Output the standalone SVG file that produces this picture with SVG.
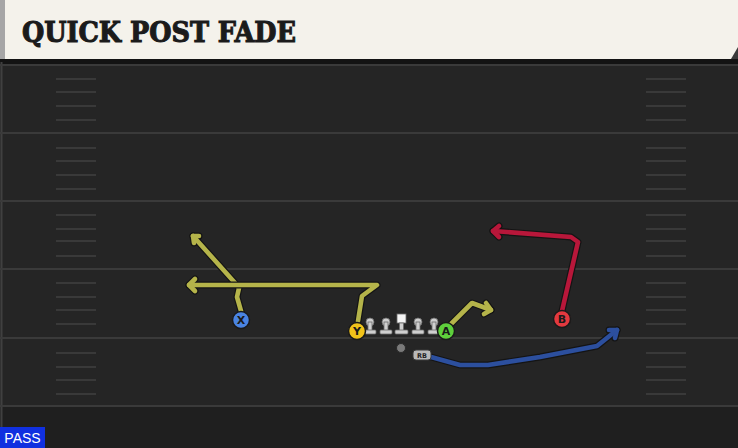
<svg xmlns="http://www.w3.org/2000/svg" width="738" height="448" viewBox="0 0 738 448">
<style>
.yl{stroke:#3a3a3a;stroke-width:2}
.hm{stroke:#393939;stroke-width:2}
.out{fill:none;stroke:#141414;stroke-width:7;stroke-linecap:round;stroke-linejoin:round}
.rt{fill:none;stroke-width:4.6;stroke-linecap:round;stroke-linejoin:round}
.ol{stroke:#b5b44a}
.rd{stroke:#b8173a}
.bl{stroke:#2c4f9e}
.pc{stroke:#1a1a1a;stroke-width:1.5}
.pl{font-family:"DejaVu Sans",sans-serif;font-weight:bold;font-size:11px;fill:#1a1a1a;text-anchor:middle}
.ln{fill:#cfcfcf;stroke:#6a6a6a;stroke-width:0.8}
</style>
<rect width="738" height="448" fill="#252525"/>
<rect x="0" y="406" width="738" height="42" fill="#1f1f1f"/>
<rect x="0" y="59" width="738" height="5" fill="#131313"/>
<line x1="1.5" y1="62" x2="1.5" y2="428" stroke="#404040" stroke-width="2"/>
<g id="field">
<line class="yl" x1="0" y1="65" x2="738" y2="65"/>
<line class="yl" x1="0" y1="133" x2="738" y2="133"/>
<line class="yl" x1="0" y1="201" x2="738" y2="201"/>
<line class="yl" x1="0" y1="269" x2="738" y2="269"/>
<line class="yl" x1="0" y1="338" x2="738" y2="338"/>
<line class="yl" x1="0" y1="406" x2="738" y2="406"/>
<g id="hashL">
<line class="hm" x1="56" y1="79" x2="96" y2="79"/><line class="hm" x1="56" y1="92" x2="96" y2="92"/><line class="hm" x1="56" y1="106" x2="96" y2="106"/><line class="hm" x1="56" y1="120" x2="96" y2="120"/>
<line class="hm" x1="56" y1="148" x2="96" y2="148"/><line class="hm" x1="56" y1="161" x2="96" y2="161"/><line class="hm" x1="56" y1="175" x2="96" y2="175"/><line class="hm" x1="56" y1="189" x2="96" y2="189"/>
<line class="hm" x1="56" y1="215" x2="96" y2="215"/><line class="hm" x1="56" y1="229" x2="96" y2="229"/><line class="hm" x1="56" y1="241" x2="96" y2="241"/><line class="hm" x1="56" y1="256" x2="96" y2="256"/>
<line class="hm" x1="56" y1="283" x2="96" y2="283"/><line class="hm" x1="56" y1="297" x2="96" y2="297"/><line class="hm" x1="56" y1="310" x2="96" y2="310"/><line class="hm" x1="56" y1="324" x2="96" y2="324"/>
<line class="hm" x1="56" y1="353" x2="96" y2="353"/><line class="hm" x1="56" y1="367" x2="96" y2="367"/><line class="hm" x1="56" y1="380" x2="96" y2="380"/><line class="hm" x1="56" y1="394" x2="96" y2="394"/>
</g>
<use href="#hashL" x="590"/>
</g>
<g id="header">
<rect x="0" y="0" width="738" height="59" fill="#f4f2eb"/>
<polygon points="731,59 738,59 738,47" fill="#3a3a3a"/>
<rect x="0" y="0" width="5" height="59" fill="#a6a6a6"/>
<text x="22" y="42" font-family="'DejaVu Serif',serif" font-weight="bold" font-size="28" fill="#1b1b1b" stroke="#1b1b1b" stroke-width="1.1" textLength="274" lengthAdjust="spacingAndGlyphs">QUICK POST FADE</text>
</g>
<g id="connectors">
<g id="route-x">
<polyline class="out" points="241,311 237,297 239,288 236,284 193,236"/>
<polyline class="out" points="199,236 193,236 194,243"/>
<polyline class="rt ol" points="241,311 237,297 239,288 236,284 193,236"/>
<polyline class="rt ol" points="199,236 193,236 194,243"/>
</g>
<g id="route-y">
<polyline class="out" points="358,321 362,296 377,285 189,285"/>
<polyline class="out" points="195,279 189,285 195,291"/>
<polyline class="rt ol" points="358,321 362,296 377,285 189,285"/>
<polyline class="rt ol" points="195,279 189,285 195,291"/>
</g>
<g id="route-a">
<polyline class="out" points="451,324 472,303 491,310"/>
<polyline class="out" points="486,303 491,310 484,314"/>
<polyline class="rt ol" points="451,324 472,303 491,310"/>
<polyline class="rt ol" points="486,303 491,310 484,314"/>
</g>
<g id="route-b">
<polyline class="out" points="562,311 578,242 571,237 493,231"/>
<polyline class="out" points="499,226 493,231 499,237"/>
<polyline class="rt rd" points="562,311 578,242 571,237 493,231"/>
<polyline class="rt rd" points="499,226 493,231 499,237"/>
</g>
<g id="route-rb">
<polyline class="out" points="431,357 460,365 488,365 540,357 597,346 617,330"/>
<polyline class="out" points="609,330 617,330 615,338"/>
<polyline class="rt bl" points="431,357 460,365 488,365 540,357 597,346 617,330"/>
<polyline class="rt bl" points="609,330 617,330 615,338"/>
</g>
</g>
<g id="line-ol">
<g id="lt"><circle class="ln" cx="370" cy="322" r="4"/><rect class="ln" x="368" y="322" width="4" height="9"/><rect class="ln" x="364" y="330" width="12" height="4" rx="1"/></g>
<use href="#lt" x="16"/>
<use href="#lt" x="48"/>
<use href="#lt" x="64"/>
<g id="center"><rect x="397" y="314" width="9" height="9" fill="#f4f4f4" stroke="#6a6a6a" stroke-width="0.8"/><rect class="ln" x="399.5" y="323" width="4" height="8"/><rect class="ln" x="395" y="330" width="13" height="4" rx="1"/></g>
</g>
<g id="qb"><circle cx="401" cy="348" r="4.5" fill="#7a7a7a" stroke="#2a2a2a" stroke-width="1"/></g>
<g id="rb"><rect x="413" y="350" width="18" height="10" rx="3" fill="#b9b9b9" stroke="#3a3a3a" stroke-width="1"/><text x="422" y="358" font-family="'DejaVu Sans',sans-serif" font-weight="bold" font-size="6.5" fill="#222" text-anchor="middle">RB</text></g>
<g id="player-x"><circle class="pc" cx="241" cy="320" r="8.5" fill="#4a84e2"/><text class="pl" x="241" y="324">X</text></g>
<g id="player-y"><circle class="pc" cx="357" cy="331" r="8.5" fill="#f1c31a"/><text class="pl" x="357" y="335">Y</text></g>
<g id="player-a"><circle class="pc" cx="446" cy="331" r="8.5" fill="#5fd03c"/><text class="pl" x="446" y="335">A</text></g>
<g id="player-b"><circle class="pc" cx="562" cy="319" r="8.5" fill="#e3393f"/><text class="pl" x="562" y="323">B</text></g>
<g id="pass"><rect x="0" y="427" width="45" height="21" fill="#1030e0"/><text x="22.5" y="443" font-family="'Liberation Sans',sans-serif" font-size="14" fill="#ffffff" text-anchor="middle">PASS</text></g>
</svg>
